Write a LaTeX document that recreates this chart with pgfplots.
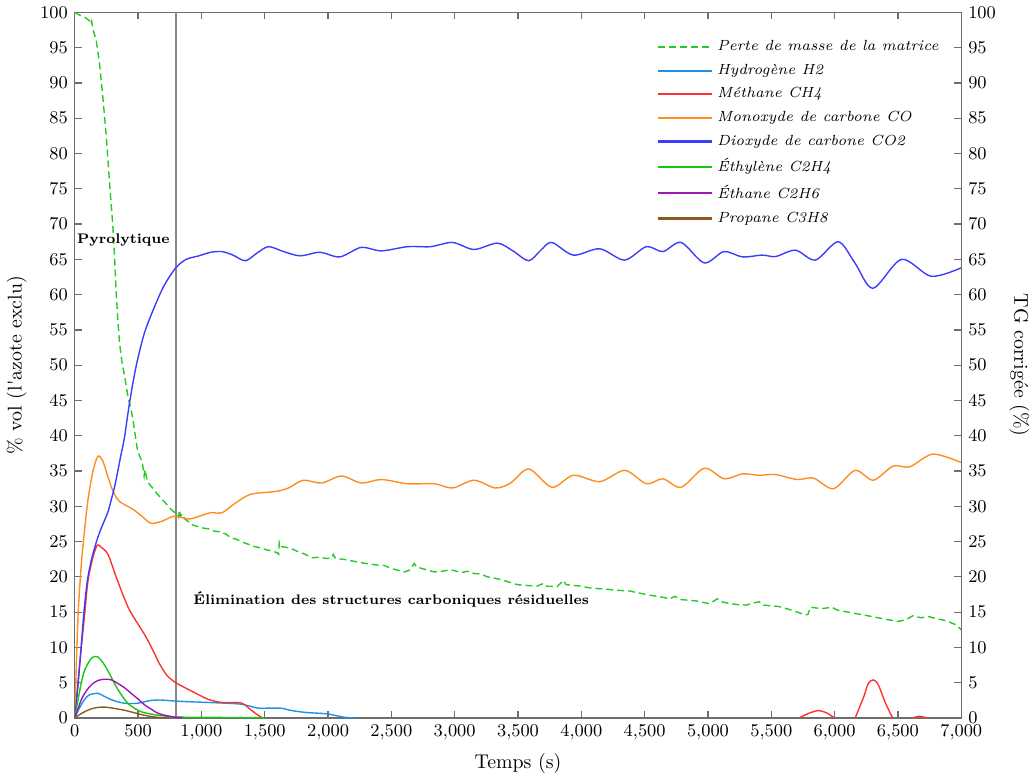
\documentclass[border=0pt]{standalone}
\usepackage{pgfplots}
\pgfplotsset{compat=1.18}
\definecolor{cTG}{RGB}{34,204,34}
\definecolor{cHyd}{RGB}{30,144,230}
\definecolor{cMet}{RGB}{255,50,50}
\definecolor{cMono}{RGB}{255,140,30}
\definecolor{cDiox}{RGB}{60,60,255}
\definecolor{cEthy}{RGB}{20,200,20}
\definecolor{cEtha}{RGB}{160,20,180}
\definecolor{cProp}{RGB}{140,90,30}
\definecolor{axgray}{RGB}{110,110,110}
\definecolor{vgray}{RGB}{135,135,135}
\begin{document}
\begin{tikzpicture}
\pgfplotsset{
  common/.style={
    scale only axis, width=446pt, height=355pt,
    xmin=0, xmax=7000, ymin=0, ymax=100,
    xtick={0,500,...,7000}, ytick={0,5,...,100},
    tick align=inside, major tick length=3.5pt,
    axis line style={axgray, line width=0.7pt},
    major tick style={axgray, line width=0.6pt},
    tick label style={font=\small},
    label style={font=\normalsize},
    scaled x ticks=false,
    xticklabel={\pgfmathprintnumber[1000 sep={\mathord{,}}]{\tick}},
  }
}
\begin{axis}[common,
  xtick pos=both, ytick pos=left,
  xlabel={Temps (s)},
  ylabel={\% vol (l\textquotesingle azote exclu)},
  legend style={at={(0.986,0.972)}, anchor=north east, draw=none, fill=white,
    font=\fontsize{7.4}{9}\selectfont\itshape, cells={anchor=west}, row sep=1.2pt},
  legend image code/.code={\draw[#1, line width=1.1pt] (0pt,0pt) -- (27pt,0pt);},
]
% vertical separator
\addplot[vgray, line width=0.6pt, forget plot] coordinates {(800,0)(800,100)};

% TG (mass loss)
\addplot[cTG, line width=0.7pt, dash pattern=on 3.5pt off 2pt] coordinates {
(0,100)(40,99.6)(80,99.3)(118,98.8)(128,98.3)(134,98.7)(144,97.6)(170,96)(196,92.7)(222,88)(249,82.4)(275,75.8)(301,69.7)(314,65.5)(327,60.3)(340,56.5)(353,53.3)(372,50.5)(392,48.6)(418,45.8)(438,44.2)(458,42.5)(478,40)(497,37.8)(516,37)(536,35.9)(548,34.3)(556,35.2)(562,34.5)(575,33.5)(595,33)(615,32.6)(640,32)(660,31.6)(680,31.2)(720,30.4)(759,29.6)(790,29.1)(811,28.9)(820,28.5)(826,29.5)(835,28.6)(850,28.9)(870,28.2)(900,27.8)(916,27.5)(940,27.3)(980,27.1)(1020,26.9)(1060,26.8)(1100,26.5)(1140,26.4)(1190,26.1)(1230,25.6)(1280,25.3)(1330,24.9)(1374,24.6)(1420,24.3)(1470,24.1)(1520,23.8)(1557,23.7)(1600,23.4)(1610,23.2)(1615,24.9)(1630,24.3)(1700,24.1)(1760,23.6)(1820,23.2)(1871,22.7)(1930,22.8)(1990,22.6)(2030,22.7)(2041,23.2)(2060,22.6)(2120,22.5)(2180,22.3)(2237,22.1)(2300,21.9)(2380,21.7)(2446,21.6)(2500,21.2)(2560,20.9)(2603,20.7)(2650,21.0)(2680,21.9)(2700,21.4)(2760,21.1)(2839,20.7)(2900,20.8)(2960,21.0)(2996,20.9)(3050,20.6)(3100,20.8)(3150,20.5)(3205,20.4)(3260,20.0)(3320,19.8)(3388,19.5)(3440,19.2)(3493,18.9)(3560,18.8)(3650,18.7)(3700,19.05)(3720,18.7)(3807,18.6)(3859,19.5)(3880,18.9)(3990,18.7)(4080,18.4)(4173,18.3)(4280,18.1)(4383,18.0)(4460,17.7)(4540,17.4)(4620,17.2)(4697,16.9)(4740,17.25)(4780,16.8)(4906,16.6)(5010,16.2)(5076,16.9)(5120,16.4)(5220,16.1)(5300,16.0)(5403,16.5)(5440,16.0)(5560,15.8)(5640,15.4)(5691,15.1)(5769,14.6)(5790,14.7)(5808,15.7)(5900,15.5)(5979,15.7)(6020,15.3)(6109,15.0)(6200,14.7)(6319,14.3)(6400,14.0)(6502,13.7)(6560,13.9)(6619,14.5)(6680,14.2)(6737,14.4)(6800,14.1)(6880,13.8)(6920,13.5)(6960,13.2)(7000,12.5)};
\addlegendentry{Perte de masse de la matrice}

% H2
\addplot[cHyd, line width=0.7pt, smooth] coordinates {
(0,0)(25,1)(52,1.9)(85,2.8)(118,3.3)(183,3.5)(230,3.1)(288,2.6)(340,2.3)(392,2.1)(450,2.05)(497,2.1)(550,2.3)(602,2.5)(680,2.55)(798,2.4)(916,2.3)(1060,2.2)(1295,2.0)(1380,1.7)(1452,1.4)(1622,1.4)(1700,1.1)(1818,0.8)(1988,0.6)(2060,0.35)(2132,0.1)(2211,0)};
\addlegendentry{Hydrogène H2}

% CH4
\addplot[cMet, line width=0.7pt, smooth] coordinates {
(0,0)(25,5)(52,10)(80,15)(105,19.5)(144,22.8)(178,24.5)(209,24.2)(262,23.2)(327,20)(380,17.5)(432,15.3)(500,13.3)(562,11.5)(620,9.5)(667,7.75)(730,6)(798,5.0)(860,4.4)(929,3.75)(1000,3.1)(1060,2.6)(1164,2.2)(1295,2.2)(1340,1.9)(1387,1.2)(1440,0.5)(1484,0)};
\addlegendentry{Méthane CH4}

% CO
\addplot[cMono, line width=0.7pt, smooth] coordinates {
(0,0)(25,14)(52,21.8)(80,27)(105,31)(144,35)(183,37.1)(222,36.4)(260,34.3)(301,32.2)(353,30.7)(458,29.6)(530,28.6)(602,27.6)(690,27.9)(785,28.6)(903,28.2)(1000,28.7)(1073,29.1)(1164,29.1)(1256,30.3)(1387,31.7)(1583,32.1)(1688,32.6)(1805,33.7)(1949,33.3)(2106,34.3)(2263,33.3)(2420,33.8)(2630,33.2)(2839,33.2)(2983,32.6)(3153,33.7)(3321,32.6)(3441,33.3)(3585,35.3)(3768,32.7)(3938,34.4)(4147,33.5)(4343,35.1)(4513,33.2)(4644,33.9)(4788,32.7)(4971,35.4)(5128,33.9)(5272,34.6)(5403,34.4)(5534,34.5)(5704,33.8)(5834,34.0)(5991,32.5)(6162,35.1)(6305,33.7)(6462,35.7)(6593,35.6)(6776,37.4)(7000,36.2)};
\addlegendentry{Monoxyde de carbone CO}

% CO2
\addplot[cDiox, line width=0.7pt, smooth] coordinates {
(0,0)(25,4.5)(50,10)(75,15.5)(100,19.5)(130,22.3)(160,24.3)(190,26)(230,27.8)(262,29.2)(288,30.9)(315,32.8)(340,35)(365,37.3)(392,39.7)(432,44.6)(484,49.8)(549,54.5)(628,58.2)(706,61.3)(798,63.8)(880,65)(981,65.5)(1073,66)(1162,66.1)(1250,65.6)(1347,64.8)(1440,65.9)(1530,66.8)(1650,66.1)(1779,65.5)(1936,66.0)(2093,65.35)(2262,66.7)(2419,66.2)(2630,66.8)(2811,66.8)(2983,67.4)(3152,66.4)(3336,67.3)(3460,66.2)(3584,64.8)(3680,66.3)(3767,67.4)(3937,65.6)(4145,66.5)(4341,64.9)(4513,66.8)(4644,66.1)(4788,67.4)(4970,64.5)(5126,66.1)(5272,65.35)(5429,65.6)(5534,65.4)(5691,66.3)(5848,64.9)(6028,67.5)(6160,64.5)(6303,60.9)(6528,65.0)(6763,62.6)(7000,63.8)};
\addlegendentry{Dioxyde de carbone CO2}

% C2H4
\addplot[cEthy, line width=0.7pt, smooth] coordinates {
(0,0)(26,2.6)(52,5)(79,6.8)(131,8.45)(178,8.7)(236,7.5)(314,4.9)(360,3.5)(418,2.1)(470,1.4)(523,0.9)(590,0.6)(654,0.4)(798,0.15)(1000,0.1)(1500,0.05)};
\addlegendentry{Éthylène C2H4}

% C2H6
\addplot[cEtha, line width=0.7pt, smooth] coordinates {
(0,0)(52,2.6)(90,3.8)(131,4.7)(180,5.3)(236,5.5)(290,5.4)(340,4.9)(392,4.3)(445,3.5)(500,2.7)(549,1.9)(600,1.3)(654,0.7)(720,0.35)(785,0.15)(850,0.05)};
\addlegendentry{Éthane C2H6}

% C3H8
\addplot[cProp, line width=0.7pt, smooth] coordinates {
(0,0)(40,0.5)(79,0.9)(130,1.3)(183,1.5)(236,1.55)(300,1.4)(392,1.1)(460,0.8)(523,0.5)(590,0.25)(654,0.1)(720,0)};
\addlegendentry{Propane C3H8}

% late CH4 bumps
\addplot[cMet, line width=0.7pt, smooth, forget plot] coordinates {(5718,0)(5800,0.7)(5875,1.05)(5940,0.7)(5999,0)};
\addplot[cMet, line width=0.7pt, smooth, forget plot] coordinates {(6162,0)(6230,3)(6266,4.9)(6306,5.4)(6345,4.7)(6400,2.2)(6458,0)};
\addplot[cMet, line width=0.7pt, smooth, forget plot] coordinates {(6617,0)(6670,0.25)(6727,0)};

\node[anchor=west, inner sep=1pt, font=\fontsize{7}{9}\selectfont\bfseries] at (axis cs:0,67.7) {Pyrolytique};
\node[anchor=west, inner sep=1pt, font=\fontsize{7}{9}\selectfont\bfseries] at (axis cs:918,16.8) {Élimination des structures carboniques résiduelles};
\end{axis}

\begin{axis}[common,
  axis x line=none, axis y line*=right,
  ytick pos=right, yticklabel pos=right,
  ylabel={TG corrigée (\%)},
  ylabel style={rotate=180},
]
\end{axis}
\end{tikzpicture}
\end{document}
